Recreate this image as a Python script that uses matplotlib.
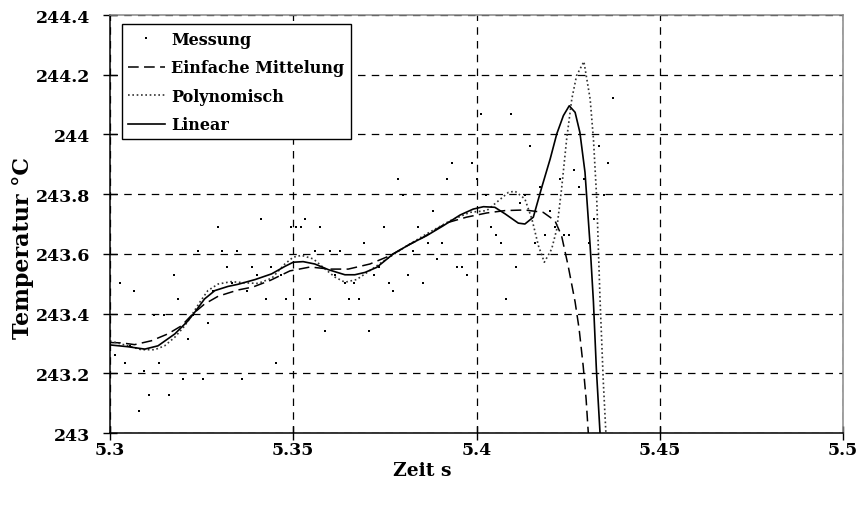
import numpy as np
import matplotlib
matplotlib.use("Agg")
import matplotlib.pyplot as plt

# Messwerte (Abtastung 750 Hz ab t = 5.3 s)
mess = [243.300, 243.262, 243.504, 243.236, 243.290, 243.477, 243.074, 243.209, 243.127, 243.396,
        243.236, 243.396, 243.127, 243.530, 243.450, 243.181, 243.316, 243.396, 243.611, 243.181,
        243.370, 243.477, 243.691, 243.611, 243.557, 243.504, 243.611, 243.181, 243.477, 243.557,
        243.530, 243.718, 243.450, 243.557, 243.236, 243.530, 243.450, 243.691, 243.691, 243.691,
        243.718, 243.450, 243.611, 243.691, 243.343, 243.611, 243.530, 243.611, 243.504, 243.450,
        243.504, 243.450, 243.638, 243.343, 243.530, 243.557, 243.691, 243.504, 243.477, 243.852,
        243.798, 243.530, 243.611, 243.691, 243.504, 243.638, 243.745, 243.584, 243.638, 243.852,
        243.906, 243.557, 243.557, 243.530, 243.906, 243.852, 244.069, 243.798, 243.691, 243.664,
        243.638, 243.450, 244.069, 243.557, 243.771, 243.798, 243.961, 243.638, 243.825, 243.664,
        243.745, 243.691, 243.852, 243.664, 243.664, 243.881, 243.825, 243.852, 243.638, 243.718,
        243.961, 243.798, 243.906, 244.121]
t_mess = 5.3 + np.arange(len(mess)) / 750.0

# Einfache Mittelung
t_mittel = [5.3000, 5.3031, 5.3067, 5.3113, 5.3158, 5.3195, 5.3226, 5.3258, 5.3295, 5.3349,
            5.3390, 5.3437, 5.3491, 5.3546, 5.3600, 5.3650, 5.3709, 5.3764, 5.3808, 5.3855,
            5.3919, 5.3973, 5.4028, 5.4078, 5.4132, 5.4182, 5.4214, 5.4232, 5.4250, 5.4269,
            5.4280, 5.4291, 5.4299, 5.4305]
y_mittel = [243.303, 243.302, 243.296, 243.309, 243.332, 243.359, 243.399, 243.432, 243.458, 243.479,
            243.489, 243.511, 243.543, 243.556, 243.549, 243.549, 243.566, 243.594, 243.625, 243.656,
            243.704, 243.723, 243.737, 243.745, 243.747, 243.739, 243.711, 243.661, 243.560, 243.439,
            243.348, 243.225, 243.114, 243.000]

# Polynomisch
t_poly = [5.3000, 5.3013, 5.3049, 5.3085, 5.3122, 5.3149, 5.3177, 5.3204, 5.3222, 5.3245,
          5.3267, 5.3295, 5.3331, 5.3368, 5.3404, 5.3442, 5.3477, 5.3500, 5.3523, 5.3555,
          5.3587, 5.3614, 5.3641, 5.3673, 5.3709, 5.3755, 5.3810, 5.3864, 5.3928, 5.3982,
          5.4028, 5.4060, 5.4087, 5.4105, 5.4132, 5.4151, 5.4169, 5.4185, 5.4205, 5.4219,
          5.4232, 5.4246, 5.4260, 5.4273, 5.4293, 5.4310, 5.4319, 5.4328, 5.4337, 5.4346,
          5.4353]
y_poly = [243.308, 243.304, 243.292, 243.279, 243.279, 243.292, 243.321, 243.359, 243.393, 243.438,
          243.477, 243.499, 243.507, 243.503, 243.501, 243.519, 243.566, 243.589, 243.595, 243.583,
          243.549, 243.522, 243.505, 243.514, 243.544, 243.583, 243.627, 243.667, 243.711, 243.739,
          243.745, 243.778, 243.806, 243.810, 243.784, 243.717, 243.627, 243.572, 243.616, 243.683,
          243.817, 243.985, 244.119, 244.197, 244.244, 244.119, 243.985, 243.784, 243.449, 243.170,
          243.000]

# Linear
t_lin = [5.3000, 5.3049, 5.3095, 5.3131, 5.3177, 5.3213, 5.3231, 5.3258, 5.3286, 5.3322,
         5.3349, 5.3396, 5.3441, 5.3477, 5.3500, 5.3527, 5.3559, 5.3596, 5.3641, 5.3668,
         5.3696, 5.3728, 5.3773, 5.3819, 5.3864, 5.3909, 5.3955, 5.3991, 5.4019, 5.4050,
         5.4078, 5.4114, 5.4132, 5.4155, 5.4178, 5.4201, 5.4219, 5.4237, 5.4253, 5.4269,
         5.4282, 5.4296, 5.4310, 5.4319, 5.4327, 5.4337]
y_lin = [243.295, 243.289, 243.281, 243.292, 243.332, 243.376, 243.404, 243.449, 243.477, 243.491,
         243.498, 243.514, 243.533, 243.558, 243.572, 243.574, 243.566, 243.547, 243.530, 243.530,
         243.538, 243.555, 243.600, 243.633, 243.661, 243.694, 243.730, 243.750, 243.758, 243.756,
         243.734, 243.703, 243.700, 243.723, 243.823, 243.918, 244.002, 244.063, 244.096, 244.074,
         244.007, 243.873, 243.627, 243.439, 243.214, 243.000]

x_ticks = [5.3, 5.35, 5.4, 5.45, 5.5]
x_labels = ['5.3', '5.35', '5.4', '5.45', '5.5']
y_ticks = [243.0, 243.2, 243.4, 243.6, 243.8, 244.0, 244.2, 244.4]
y_labels = ['243', '243.2', '243.4', '243.6', '243.8', '244', '244.2', '244.4']

plt.rcParams['font.family'] = ['DejaVu Serif']
plt.rcParams['font.weight'] = 'bold'

fig = plt.figure(figsize=(8.62, 5.10), dpi=100)
ax = fig.add_axes([0.1276, 0.149, 0.8504, 0.8196])

ax.plot(t_mess, mess, linestyle='none', marker='s', markersize=1.9, markeredgewidth=0,
        color='black', label='Messung')
ax.plot(t_mittel, y_mittel, color='black', linewidth=1.1, linestyle=(0, (7, 3.5)), label='Einfache Mittelung')
ax.plot(t_poly, y_poly, color='#333333', linewidth=1.2, linestyle=(0, (1, 1.6)), label='Polynomisch')
ax.plot(t_lin, y_lin, color='black', linewidth=1.2, label='Linear')

ax.set_xlim(5.3, 5.5)
ax.set_ylim(243.0, 244.4)
ax.set_xticks(x_ticks)
ax.set_xticklabels(x_labels)
ax.set_yticks(y_ticks)
ax.set_yticklabels(y_labels)
ax.tick_params(axis='both', direction='inout', length=10, width=1, labelsize=12.5, colors='black')
ax.tick_params(axis='y', pad=9)
ax.tick_params(axis='x', pad=1)

ax.set_axisbelow(True)
ax.grid(True, color='black', linewidth=0.9, linestyle=(0, (6, 5)))

for s in ['left', 'bottom']:
    ax.spines[s].set_color('black')
    ax.spines[s].set_linewidth(1.1)
for s in ['top', 'right']:
    ax.spines[s].set_color('#888888')
    ax.spines[s].set_linewidth(1.1)

ax.set_xlabel('Zeit s', fontsize=13.5, fontweight='bold')
ax.xaxis.set_label_coords(0.426, -0.068)
ax.set_ylabel('Temperatur °C', fontsize=16, fontweight='bold')
ax.yaxis.set_label_coords(-0.103, 0.445)

leg = ax.legend(loc='upper left', bbox_to_anchor=(0.016, 0.978), borderaxespad=0,
                fontsize=11.5, frameon=True, fancybox=False, edgecolor='black',
                handlelength=2.3, handletextpad=0.4, labelspacing=0.72, borderpad=0.4,
                markerscale=1.0)
leg.get_frame().set_linewidth(1.0)
leg.get_frame().set_alpha(1)

fig.savefig('out.png', dpi=100)
